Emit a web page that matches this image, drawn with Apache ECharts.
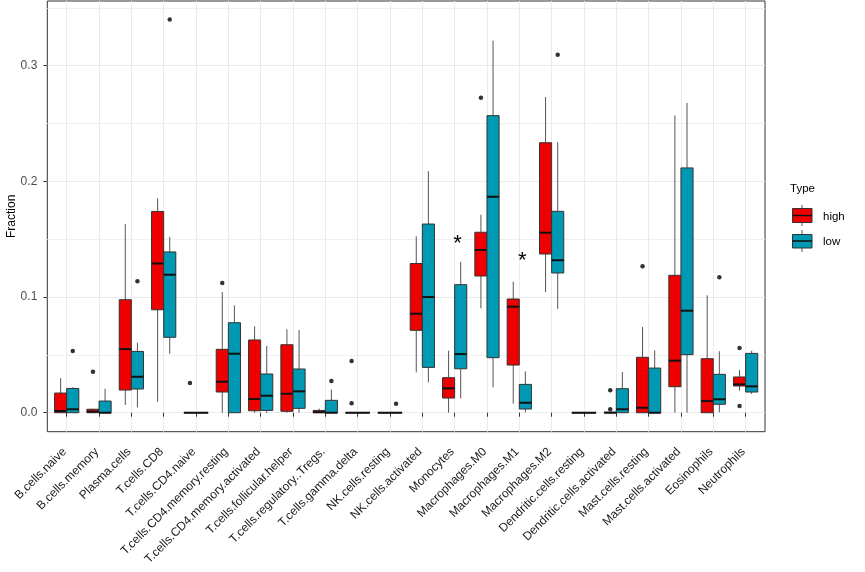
<!DOCTYPE html>
<html>
<head>
<meta charset="utf-8">
<title>Fraction by cell type</title>
<script src="https://cdn.jsdelivr.net/npm/echarts@6/dist/echarts.min.js"></script>
<style>
html, body { margin: 0; padding: 0; background: #fff; }
#chart { width: 865px; height: 572px; }
</style>
</head>
<body>
<div id="chart"></div>
<script>
var categories = ['B.cells.naive', 'B.cells.memory', 'Plasma.cells', 'T.cells.CD8', 'T.cells.CD4.naive',
  'T.cells.CD4.memory.resting', 'T.cells.CD4.memory.activated', 'T.cells.follicular.helper',
  'T.cells.regulatory..Tregs.', 'T.cells.gamma.delta', 'NK.cells.resting', 'NK.cells.activated',
  'Monocytes', 'Macrophages.M0', 'Macrophages.M1', 'Macrophages.M2', 'Dendritic.cells.resting',
  'Dendritic.cells.activated', 'Mast.cells.resting', 'Mast.cells.activated', 'Eosinophils', 'Neutrophils'];

// [lower whisker, Q1, median, Q3, upper whisker]
var highBoxes = [
  [0, 0, 0.0015, 0.017, 0.030],
  [0, 0, 0.001, 0.003, 0.0035],
  [0.0067, 0.0196, 0.055, 0.0977, 0.163],
  [0.0095, 0.089, 0.129, 0.174, 0.1853],
  [0, 0, 0, 0, 0],
  [0, 0.0179, 0.0268, 0.0548, 0.1043],
  [0, 0.0017, 0.0118, 0.0629, 0.0747],
  [0, 0.0012, 0.0164, 0.0588, 0.0721],
  [0, 0, 0.0005, 0.002, 0.0035],
  [0, 0, 0, 0, 0],
  [0, 0, 0, 0, 0],
  [0.0349, 0.0712, 0.0856, 0.129, 0.1525],
  [0, 0.0127, 0.0211, 0.0303, 0.0536],
  [0.0903, 0.1182, 0.1407, 0.156, 0.1712],
  [0.0078, 0.0412, 0.0917, 0.0983, 0.1133],
  [0.1043, 0.1372, 0.1556, 0.2334, 0.2729],
  [0, 0, 0, 0, 0],
  [0, 0, 0, 0.0005, 0.0005],
  [0, 0, 0.0043, 0.0479, 0.0741],
  [0, 0.0225, 0.045, 0.1188, 0.2571],
  [0, 0, 0.0101, 0.0467, 0.1015],
  [0.019, 0.0231, 0.0245, 0.0309, 0.0369]
];
var lowBoxes = [
  [0, 0, 0.003, 0.021, 0.022],
  [0, 0, 0, 0.0101, 0.0207],
  [0.0047, 0.0205, 0.0311, 0.053, 0.0605],
  [0.051, 0.0652, 0.1193, 0.139, 0.152],
  [0, 0, 0, 0, 0],
  [0, 0, 0.051, 0.0778, 0.0928],
  [0, 0.002, 0.0147, 0.0335, 0.0577],
  [0, 0.0038, 0.0185, 0.0378, 0.0715],
  [0, 0, 0, 0.0107, 0.020],
  [0, 0, 0, 0, 0],
  [0, 0, 0, 0, 0],
  [0.0263, 0.0392, 0.100, 0.1631, 0.2087],
  [0.0124, 0.038, 0.0507, 0.1107, 0.1306],
  [0.022, 0.0476, 0.1867, 0.2568, 0.3216],
  [0.0004, 0.0032, 0.0086, 0.0245, 0.0358],
  [0.0897, 0.1208, 0.1318, 0.1741, 0.2338],
  [0, 0, 0, 0, 0],
  [0, 0, 0.003, 0.0208, 0.0352],
  [0, 0, 0, 0.0386, 0.0539],
  [0, 0.0502, 0.0882, 0.2116, 0.2678],
  [0.0003, 0.0073, 0.0116, 0.0332, 0.0531],
  [0.0162, 0.0179, 0.0228, 0.0513, 0.0536]
];
// outliers: [category, value]
var highOutliers = [
  ['B.cells.memory', 0.0355], ['T.cells.CD4.naive', 0.0257], ['T.cells.CD4.memory.resting', 0.1121],
  ['T.cells.gamma.delta', 0.0447], ['T.cells.gamma.delta', 0.0081], ['Macrophages.M0', 0.2723],
  ['Dendritic.cells.activated', 0.0194], ['Dendritic.cells.activated', 0.003], ['Mast.cells.resting', 0.1266],
  ['Neutrophils', 0.0559], ['Neutrophils', 0.0058]
];
var lowOutliers = [
  ['B.cells.naive', 0.0533], ['Plasma.cells', 0.1136], ['T.cells.CD8', 0.340],
  ['T.cells.regulatory..Tregs.', 0.0274], ['NK.cells.resting', 0.0078], ['Macrophages.M2', 0.3095],
  ['Eosinophils', 0.117]
];
var sigCategories = ['Monocytes', 'Macrophages.M1'];
var sigY = [0.1455, 0.1315];
var sigLabels = ['*', '*'];
var yTicks = [0, 0.1, 0.2, 0.3];
var yMinorTicks = [0.05, 0.15, 0.25, 0.35];

var RED = '#EE0000', BLUE = '#0099B4';
var FONT = "'Liberation Sans', Arial, sans-serif";
var DODGE = 0.1875, BOXW = 0.375;
var Y_MIN = -0.0164, Y_MAX = 0.3559;

function pos(name) {
  return categories.indexOf(name) + 1;
}

function boxRender(offset, color) {
  return function (params, api) {
    var x = api.value(0) + offset;
    var w = api.size([BOXW, 0])[0];
    var lo = api.coord([x, api.value(1)]);
    var q1 = api.coord([x, api.value(2)]);
    var md = api.coord([x, api.value(3)]);
    var q3 = api.coord([x, api.value(4)]);
    var hi = api.coord([x, api.value(5)]);
    var ws = { stroke: '#555', lineWidth: 1 };
    return {
      type: 'group',
      children: [
        { type: 'line', shape: { x1: hi[0], y1: hi[1], x2: q3[0], y2: q3[1] }, style: ws },
        { type: 'line', shape: { x1: q1[0], y1: q1[1], x2: lo[0], y2: lo[1] }, style: ws },
        { type: 'rect', shape: { x: q3[0] - w / 2, y: q3[1], width: w, height: q1[1] - q3[1] },
          style: { fill: color, stroke: '#333', lineWidth: 1 } },
        { type: 'line', shape: { x1: md[0] - w / 2, y1: md[1], x2: md[0] + w / 2, y2: md[1] },
          style: { stroke: '#111', lineWidth: 2 } }
      ]
    };
  };
}

function boxData(boxes) {
  return boxes.map(function (b, i) { return [i + 1].concat(b); });
}
function outlierData(list, offset) {
  return list.map(function (o) { return [pos(o[0]) + offset, o[1]]; });
}

var sigData = sigCategories.map(function (c, i) { return [pos(c), sigY[i], sigLabels[i]]; });
var xTicks = categories.map(function (c, i) { return i + 1; });

var chart = echarts.init(document.getElementById('chart'), null, { renderer: 'canvas' });
var option = {
  backgroundColor: '#fff',
  animation: false,
  textStyle: { fontFamily: FONT },
  grid: {
    left: 47.3, right: 100, top: 1, bottom: 140.3,
    outerBoundsMode: 'none', containLabel: false,
    show: true, borderColor: '#333', borderWidth: 1, backgroundColor: '#fff'
  },
  xAxis: {
    type: 'value', min: 0.4, max: 22.6,
    axisLine: { show: false },
    axisTick: { show: true, length: 4, customValues: xTicks, lineStyle: { color: '#333' } },
    axisLabel: {
      customValues: xTicks, rotate: 45, margin: 16, padding: [0, 3, 0, 0],
      fontSize: 12, color: '#1a1a1a', fontFamily: FONT,
      formatter: function (v) { return categories[Math.round(v) - 1] || ''; }
    },
    splitLine: { show: true, lineStyle: { color: '#ebebeb', width: 1 } }
  },
  yAxis: [{
    type: 'value', min: Y_MIN, max: Y_MAX,
    name: 'Fraction', nameLocation: 'middle', nameGap: 30, nameMoveOverlap: false,
    nameTextStyle: { fontSize: 12, color: '#000', fontFamily: FONT },
    axisLine: { show: false },
    axisTick: { show: true, length: 4, customValues: yTicks, lineStyle: { color: '#333' } },
    axisLabel: {
      customValues: yTicks, margin: 10, fontSize: 12, color: '#4d4d4d', fontFamily: FONT,
      formatter: function (v) { return v.toFixed(1); }
    },
    splitLine: { show: true, lineStyle: { color: '#ebebeb', width: 1 } }
  }, {
    type: 'value', min: Y_MIN, max: Y_MAX, position: 'left',
    axisLine: { show: false },
    axisTick: { show: false, customValues: yMinorTicks },
    axisLabel: { show: false, customValues: yMinorTicks },
    splitLine: { show: true, lineStyle: { color: '#f0f0f0', width: 1 } }
  }],
  series: [{
    name: 'high', type: 'custom', renderItem: boxRender(-DODGE, RED),
    encode: { x: 0, y: [1, 2, 3, 4, 5] }, data: boxData(highBoxes), z: 3
  }, {
    name: 'low', type: 'custom', renderItem: boxRender(DODGE, BLUE),
    encode: { x: 0, y: [1, 2, 3, 4, 5] }, data: boxData(lowBoxes), z: 3
  }, {
    name: 'high outliers', type: 'scatter', symbol: 'circle', symbolSize: 4.5,
    itemStyle: { color: '#000' }, data: outlierData(highOutliers, -DODGE), z: 4
  }, {
    name: 'low outliers', type: 'scatter', symbol: 'circle', symbolSize: 4.5,
    itemStyle: { color: '#000' }, data: outlierData(lowOutliers, DODGE), z: 4
  }, {
    name: 'signif', type: 'custom', data: sigData, z: 5,
    encode: { x: 0, y: 1 },
    renderItem: function (params, api) {
      var p = api.coord([api.value(0), api.value(1)]);
      return {
        type: 'text', x: p[0] + 3, y: p[1],
        style: { text: sigData[params.dataIndex][2], fill: '#000', fontSize: 22, fontFamily: FONT,
          align: 'center', verticalAlign: 'middle' }
      };
    }
  }],
  graphic: [
    { type: 'text', left: 790, top: 183, style: { text: 'Type', fontSize: 11.5, fill: '#000', fontFamily: FONT } },
    { type: 'line', shape: { x1: 802, y1: 205, x2: 802, y2: 226 }, style: { stroke: '#555', lineWidth: 1 } },
    { type: 'rect', shape: { x: 792.5, y: 208.5, width: 19.5, height: 14 }, style: { fill: RED, stroke: '#333', lineWidth: 1 } },
    { type: 'line', shape: { x1: 792.5, y1: 215.5, x2: 812, y2: 215.5 }, style: { stroke: '#111', lineWidth: 1.5 } },
    { type: 'text', left: 823, top: 211, style: { text: 'high', fontSize: 11.5, fill: '#000', fontFamily: FONT } },
    { type: 'line', shape: { x1: 802, y1: 230, x2: 802, y2: 252 }, style: { stroke: '#555', lineWidth: 1 } },
    { type: 'rect', shape: { x: 792.5, y: 234.5, width: 19.5, height: 13.5 }, style: { fill: BLUE, stroke: '#333', lineWidth: 1 } },
    { type: 'line', shape: { x1: 792.5, y1: 241, x2: 812, y2: 241 }, style: { stroke: '#111', lineWidth: 1.5 } },
    { type: 'text', left: 823, top: 236, style: { text: 'low', fontSize: 11.5, fill: '#000', fontFamily: FONT } }
  ]
};
chart.setOption(option);
</script>
</body>
</html>
